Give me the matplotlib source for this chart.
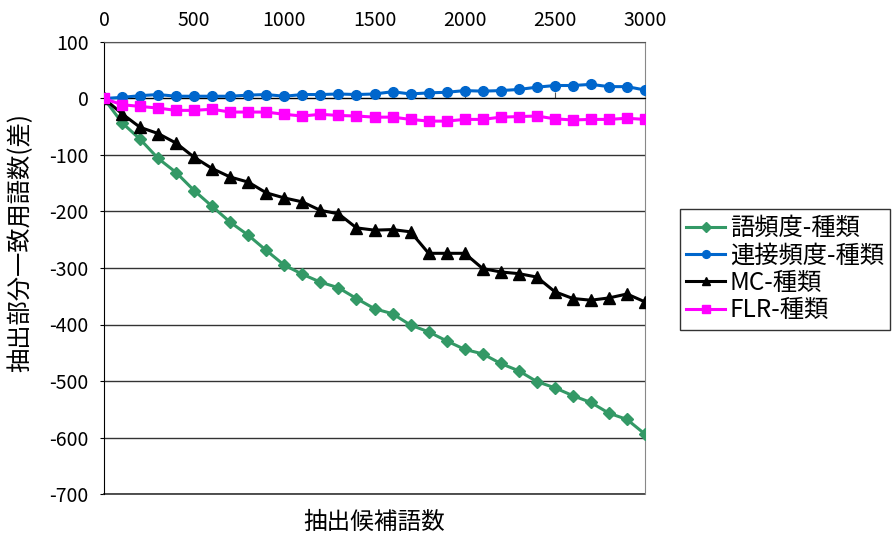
import matplotlib
matplotlib.use("Agg")
import matplotlib.pyplot as plt

plt.rcParams['font.family'] = ['Noto Sans CJK JP', 'DejaVu Sans']
plt.rcParams['axes.unicode_minus'] = False

# 抽出候補語数 (0..3000, 100刻み)
candidates = list(range(0, 3100, 100))

# 語頻度-種類
word_freq = [0, -43, -72, -106, -131, -163, -191, -219, -242, -269,
             -295, -311, -325, -335, -354, -372, -381, -401, -413, -429,
             -444, -452, -469, -482, -501, -512, -526, -538, -557, -568, -594]
# 連接頻度-種類
conn_freq = [0, 2, 5, 7, 4, 4, 4, 4, 6, 7,
             4, 7, 7, 8, 7, 8, 12, 8, 10, 11,
             14, 13, 14, 16, 20, 23, 23, 25, 21, 21, 15]
# MC-種類
mc = [0, -27, -51, -62, -79, -104, -124, -139, -148, -167,
      -176, -183, -198, -204, -229, -233, -232, -236, -274, -274,
      -274, -301, -307, -310, -316, -342, -354, -357, -353, -346, -360]
# FLR-種類
flr = [0, -11, -14, -17, -21, -21, -19, -24, -24, -24,
       -28, -31, -28, -30, -31, -33, -33, -37, -40, -40,
       -37, -37, -33, -32, -31, -36, -38, -37, -37, -35, -37]

fig = plt.figure(figsize=(8.93, 5.38), dpi=100)
ax = fig.add_axes([104 / 893, 44 / 538, 541 / 893, 452 / 538])

ax.plot(candidates, word_freq, color='#339966', marker='D', ms=6.5, lw=2.2, label='語頻度-種類', zorder=3)
ax.plot(candidates, conn_freq, color='#0066CC', marker='o', ms=7, lw=2.2, label='連接頻度-種類', zorder=3)
ax.plot(candidates, mc, color='black', marker='^', ms=8, lw=2.2, label='MC-種類', zorder=3)
ax.plot(candidates, flr, color='#FF00FF', marker='s', ms=7, lw=2.2, label='FLR-種類', zorder=3)

ax.set_xlim(0, 3000)
ax.set_ylim(-700, 100)
ax.set_xticks(range(0, 3001, 500))
ax.set_yticks(range(-700, 101, 100))

# 横軸は y=0 の位置、目盛ラベルは上側
ax.spines['bottom'].set_position(('data', 0))
ax.spines['bottom'].set_color('black')
ax.spines['top'].set_color('#555555')
ax.spines['right'].set_color('#888888')
ax.spines['left'].set_color('black')
ax.axhline(-700, color='#333333', lw=1.2, zorder=2, clip_on=False)
ax.tick_params(axis='x', bottom=True, top=False, labelbottom=False, labeltop=True,
               direction='in', length=4, pad=8, labelsize=14, color='#555555')
ax.tick_params(axis='y', direction='out', length=3, pad=8, labelsize=14)

ax.yaxis.grid(True, color='#333333', lw=1)
ax.set_axisbelow(True)

ax.set_xlabel('抽出候補語数', fontsize=17)
ax.xaxis.set_label_coords(0.5, -0.037)
ax.set_ylabel('抽出部分一致用語数(差)', fontsize=17.5)
ax.yaxis.set_label_coords(-0.13, 0.5575)

ax.legend(loc='upper left', bbox_to_anchor=(680 / 893, 1 - 209 / 538),
          bbox_transform=fig.transFigure, borderaxespad=0, fontsize=17.5,
          fancybox=False, edgecolor='#333333', framealpha=1,
          handlelength=1.6, handletextpad=0.2, labelspacing=0.06,
          borderpad=0.25, markerscale=0.8)

fig.savefig('out.png', dpi=100)
